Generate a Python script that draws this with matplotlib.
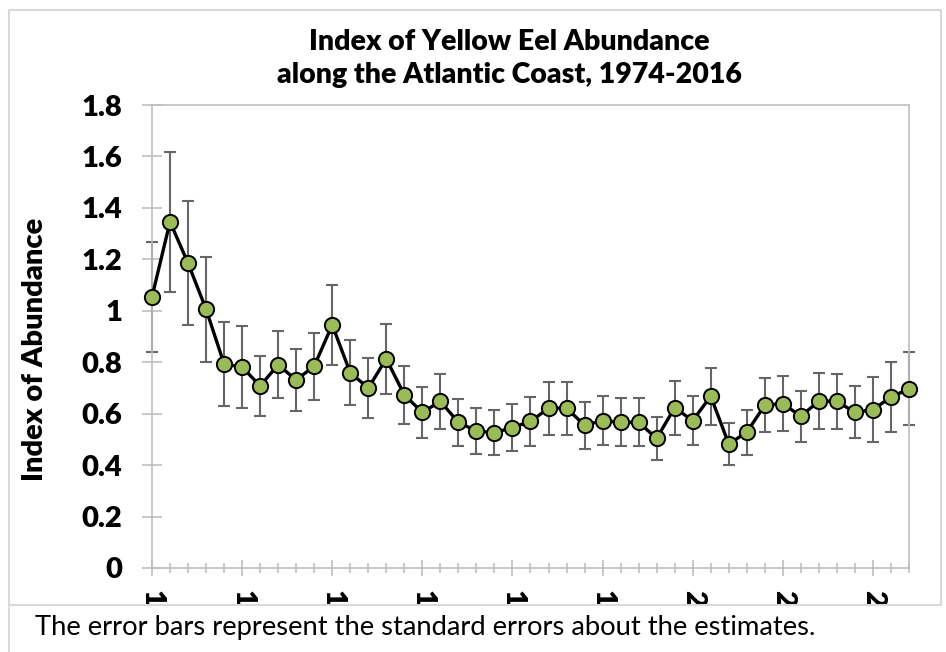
import matplotlib.pyplot as plt
from matplotlib.patches import Rectangle
from matplotlib.ticker import MultipleLocator
from matplotlib.transforms import Bbox, TransformedBbox

# Yellow eel abundance index with standard errors
years = list(range(1974, 2017))
index = [1.054, 1.346, 1.185, 1.006, 0.793, 0.781, 0.708, 0.790, 0.731, 0.785,
         0.945, 0.759, 0.700, 0.813, 0.673, 0.605, 0.648, 0.566, 0.533, 0.526,
         0.546, 0.570, 0.621, 0.621, 0.555, 0.573, 0.566, 0.566, 0.504, 0.623,
         0.573, 0.668, 0.482, 0.528, 0.633, 0.639, 0.590, 0.649, 0.648, 0.605,
         0.616, 0.664, 0.697]
std_err = [0.215, 0.273, 0.242, 0.205, 0.162, 0.160, 0.118, 0.131, 0.120, 0.130,
           0.157, 0.126, 0.117, 0.135, 0.112, 0.100, 0.108, 0.092, 0.088, 0.088,
           0.091, 0.095, 0.103, 0.103, 0.092, 0.094, 0.093, 0.093, 0.083, 0.104,
           0.095, 0.111, 0.080, 0.088, 0.105, 0.106, 0.100, 0.108, 0.108, 0.101,
           0.125, 0.135, 0.141]
major_years = years[::5]
yticks = [0, 0.2, 0.4, 0.6, 0.8, 1, 1.2, 1.4, 1.6, 1.8]
ytick_labels = ['0', '0.2', '0.4', '0.6', '0.8', '1', '1.2', '1.4', '1.6', '1.8']

plt.rcParams['font.family'] = ['Lato', 'DejaVu Sans']

W, H = 946, 652
fig = plt.figure(figsize=(W / 100, H / 100), dpi=100)
ax = fig.add_axes([152 / W, 1 - 568 / H, (909 - 152) / W, (568 - 105) / H])

ax.errorbar(years, index, yerr=std_err, fmt='none', ecolor='#666666',
            elinewidth=1.5, capsize=4, capthick=1.5, zorder=2, clip_on=False)
ax.plot(years, index, color='black', lw=2.4, marker='o', ms=11,
        markerfacecolor='#9BBB59', markeredgecolor='black', markeredgewidth=1.4,
        zorder=3, clip_on=False)

ax.set_xlim(1974, 2016)
ax.set_ylim(0, 1.8)
ax.set_yticks(yticks)
ax.set_yticklabels(ytick_labels, fontsize=21, fontweight='heavy')
ax.set_xticks(major_years)
ax.set_xticks(years, minor=True)
ax.set_xticklabels([str(y) for y in major_years], rotation=-90,
                   fontsize=21, fontweight='heavy')

for s in ax.spines.values():
    s.set_color('#bfbfbf')
    s.set_linewidth(1.2)
ax.tick_params(axis='y', direction='inout', length=14.5, width=1.2,
               color='#bfbfbf', pad=14)
ax.tick_params(axis='x', which='major', direction='inout', length=11.5,
               width=1.2, color='#bfbfbf', pad=10)
ax.tick_params(axis='x', which='minor', direction='inout', length=7,
               width=1.2, color='#bfbfbf')

# the year labels are cut off by the bottom of the chart frame
clip = TransformedBbox(Bbox([[0, 47 / H], [1, 1]]), fig.transFigure)
for lab in ax.get_xticklabels():
    lab.set_clip_on(True)
    lab.set_clip_box(clip)

fig.text(35 / W, 1 - 349 / H, 'Index of Abundance', rotation=90,
         fontsize=21, fontweight='heavy', ha='center', va='center')
fig.text(509 / W, 1 - 42 / H, 'Index of Yellow Eel Abundance',
         fontsize=20.5, fontweight='heavy', ha='center', va='center')
fig.text(509 / W, 1 - 75 / H, 'along the Atlantic Coast, 1974-2016',
         fontsize=20.5, fontweight='heavy', ha='center', va='center')

# chart frame
fig.patches.append(Rectangle((9 / W, 47 / H), 932 / W, 595 / H,
                             transform=fig.transFigure, facecolor='none',
                             edgecolor='#d9d9d9', lw=1.5, zorder=6))
fig.add_artist(plt.Line2D([9 / W, 9 / W], [0, 47 / H], color='#d9d9d9',
                          lw=1.5, zorder=6))
fig.text(35 / W, 1 - 627 / H,
         'The error bars represent the standard errors about the estimates.',
         fontsize=19.7, ha='left', va='center', zorder=7)

fig.savefig('out.png', dpi=100)
